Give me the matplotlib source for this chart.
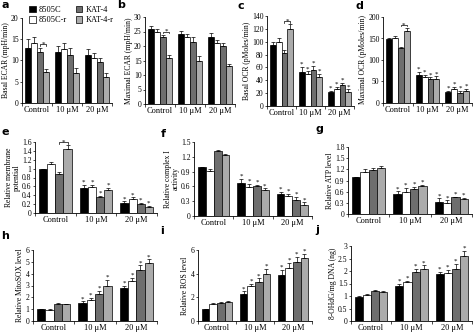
import matplotlib.pyplot as plt
import numpy as np

plt.rcParams["font.family"] = ["Liberation Serif", "DejaVu Serif"]

groups = ["Control", "10 \u03bcM", "20 \u03bcM"]
lines = ["8505C", "8505C-r", "KAT-4", "KAT-4-r"]
colors = ["black", "white", "#6e6e6e", "#ababab"]

# mean values, rows = cell line, columns = dose
basal_ecar = [[13, 12, 11.2], [14, 12.8, 10.6], [12, 11.2, 9.6], [7.2, 7, 6]]
basal_ecar_err = [[2, 1.5, 1.5], [1.5, 1.2, 1.2], [1, 1.8, 1], [0.8, 1.2, 1]]
max_ecar = [[26, 24, 23], [25, 23, 21], [23, 21.5, 20], [16, 15, 13]]
max_ecar_err = [[1, 1.2, 1.5], [1, 1, 1], [0.8, 1.5, 1], [1, 1.5, 0.8]]
basal_ocr = [[95, 53, 21], [100, 50, 27], [82, 56, 32], [120, 45, 21]]
basal_ocr_err = [[4, 8, 3], [6, 4, 3], [5, 6, 4], [7, 5, 5]]
max_ocr = [[148, 65, 25], [152, 60, 32], [127, 55, 24], [168, 56, 28]]
max_ocr_err = [[3, 8, 4], [3, 6, 5], [3, 5, 4], [6, 6, 5]]
membrane = [[1.0, 0.56, 0.22], [1.1, 0.58, 0.31], [0.88, 0.35, 0.2], [1.45, 0.52, 0.13]]
membrane_err = [[0, 0.08, 0.04], [0.06, 0.05, 0.04], [0.05, 0.04, 0.03], [0.08, 0.04, 0.03]]
complex1 = [[1.0, 0.67, 0.45], [0.92, 0.58, 0.4], [1.32, 0.6, 0.33], [1.23, 0.53, 0.23]]
complex1_err = [[0, 0.08, 0.04], [0.03, 0.07, 0.05], [0.02, 0.03, 0.06], [0.03, 0.03, 0.05]]
atp = [[1.0, 0.53, 0.32], [1.13, 0.6, 0.3], [1.19, 0.67, 0.45], [1.24, 0.75, 0.4]]
atp_err = [[0, 0.08, 0.1], [0.08, 0.1, 0.07], [0.05, 0.06, 0.02], [0.04, 0.03, 0.03]]
mitosox = [[1.0, 1.55, 2.8], [0.95, 1.75, 3.35], [1.45, 2.3, 4.35], [1.4, 3.0, 4.9]]
mitosox_err = [[0, 0.1, 0.2], [0.05, 0.2, 0.3], [0.07, 0.25, 0.35], [0.06, 0.5, 0.3]]
ros = [[1.0, 2.3, 3.9], [1.45, 3.0, 4.5], [1.55, 3.3, 5.0], [1.6, 4.0, 5.3]]
ros_err = [[0, 0.2, 0.4], [0.05, 0.15, 0.4], [0.05, 0.3, 0.4], [0.08, 0.4, 0.4]]
ohdg = [[0.97, 1.42, 1.87], [1.05, 1.55, 1.92], [1.22, 1.97, 2.08], [1.17, 2.08, 2.6]]
ohdg_err = [[0.03, 0.08, 0.1], [0.03, 0.07, 0.12], [0.04, 0.12, 0.2], [0.05, 0.15, 0.22]]

W, H = 474, 335
fig = plt.figure(figsize=(W / 100, H / 100), dpi=100)


def panel(letter, box, vals, errs, ylabel, yticks, stars=True, bracket=False,
          letter_xy=(0, 0)):
    x0, y0, x1, y1 = box
    ax = fig.add_axes([x0 / W, 1 - y1 / H, (x1 - x0) / W, (y1 - y0) / H])
    vals = np.array(vals, float)
    errs = np.array(errs, float)
    x = np.arange(3)
    bw = 0.2
    ymax = yticks[-1]
    for i in range(4):
        xs = x + (i - 1.5) * bw
        ax.bar(xs, vals[i], bw, color=colors[i], edgecolor="black",
               linewidth=0.5, label=lines[i])
        ax.errorbar(xs, vals[i], yerr=[np.zeros(3), errs[i]], fmt="none",
                    ecolor="black", elinewidth=0.5, capsize=1.2, capthick=0.5)
        if stars:
            for g in (1, 2):
                ax.text(xs[g], vals[i][g] + errs[i][g], "*",
                        ha="center", va="bottom", fontsize=5)
    if bracket:
        xa = x[0] + 0.5 * bw
        xb = x[0] + 1.5 * bw
        top = max(vals[2][0] + errs[2][0], vals[3][0] + errs[3][0]) + ymax * 0.04
        ax.plot([xa, xa, xb, xb], [top - ymax * 0.02, top, top, top - ymax * 0.02],
                color="black", lw=0.5)
        ax.text((xa + xb) / 2, top - ymax * 0.03, "*", ha="center", va="bottom",
                fontsize=5)
    ax.set_xlim(-0.5, 2.5)
    ax.set_ylim(0, ymax)
    ax.set_yticks(yticks)
    ax.set_yticklabels([f"{v:g}" for v in yticks])
    ax.set_xticks(x)
    ax.set_xticklabels(groups, fontsize=6)
    ax.set_xticks([-0.5, 0.5, 1.5, 2.5], minor=True)
    ax.tick_params(axis="x", which="major", length=0, pad=2.5)
    ax.tick_params(axis="x", which="minor", length=2, width=0.5)
    ax.tick_params(axis="y", labelsize=5.5, length=1.5, width=0.5, pad=1)
    for s in ("top", "right"):
        ax.spines[s].set_visible(False)
    for s in ("left", "bottom"):
        ax.spines[s].set_linewidth(0.6)
    ax.set_ylabel(ylabel, fontsize=5.5, labelpad=1, linespacing=0.9)
    fig.text(letter_xy[0] / W, 1 - letter_xy[1] / H, letter, fontsize=8,
             fontweight="bold", family="DejaVu Sans", va="top", ha="left")
    return ax


ax_a = panel("a", (22, 18, 112, 103), basal_ecar, basal_ecar_err,
             "Basal ECAR (mpH/min)", [0, 5, 10, 15, 20], stars=False, bracket=True,
             letter_xy=(1, 0))
panel("b", (145, 17, 235, 104), max_ecar, max_ecar_err,
      "Maximal ECAR (mpH/min)", [0, 5, 10, 15, 20, 25, 30], stars=False,
      bracket=True, letter_xy=(117, 0))
panel("c", (267, 16, 354, 106), basal_ocr, basal_ocr_err,
      "Basal OCR (pMoles/min)", list(range(0, 141, 20)), bracket=True,
      letter_xy=(237, 1))
panel("d", (383, 17, 472, 103), max_ocr, max_ocr_err,
      "Maximal OCR (pMoles/min)", [0, 50, 100, 150, 200], bracket=True,
      letter_xy=(356, 1))
panel("e", (35, 142, 157, 213), membrane, membrane_err,
      "Relative membrane\npotential", [0, 0.2, 0.4, 0.6, 0.8, 1, 1.2, 1.4, 1.6],
      bracket=True, letter_xy=(1, 127))
panel("f", (194, 142, 312, 216), complex1, complex1_err,
      "Relative complex I\nactivity", [0, 0.3, 0.6, 0.9, 1.2, 1.5],
      letter_xy=(161, 129))
panel("g", (348, 147, 472, 214), atp, atp_err,
      "Relative ATP level", [0, 0.3, 0.6, 0.9, 1.2, 1.5, 1.8],
      letter_xy=(315, 124))
panel("h", (33, 250, 157, 321), mitosox, mitosox_err,
      "Relative MitoSOX level", [0, 1, 2, 3, 4, 5, 6], letter_xy=(1, 231))
panel("i", (198, 250, 312, 321), ros, ros_err,
      "Relative ROS level", [0, 2, 4, 6], letter_xy=(160, 226))
panel("j", (351, 246, 472, 321), ohdg, ohdg_err,
      "8-OHdG/mg DNA (ng)", [0, 0.5, 1, 1.5, 2, 2.5, 3], letter_xy=(315, 225))

handles, labels = ax_a.get_legend_handles_labels()
fig.legend(handles, labels, ncol=2, loc="upper left",
           bbox_to_anchor=(24 / W, 1 - 1 / H), frameon=False, fontsize=6,
           handlelength=0.8, handleheight=0.8, handletextpad=0.4,
           columnspacing=1.0, labelspacing=0.25, borderpad=0.1)

fig.savefig("out.png", dpi=100)
